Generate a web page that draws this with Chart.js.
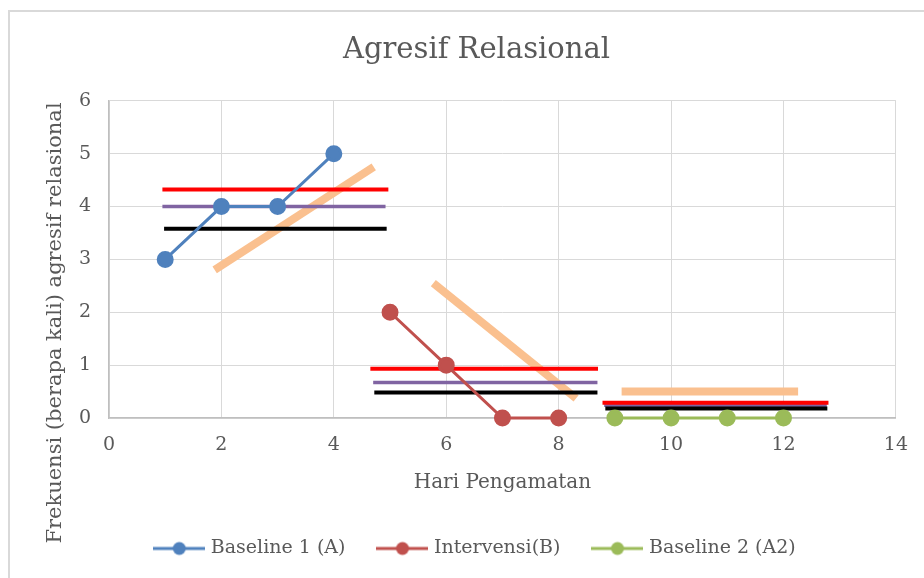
<!DOCTYPE html>
<html>
<head>
<meta charset="utf-8">
<script src="https://cdn.jsdelivr.net/npm/chart.js@4.4.1/dist/chart.umd.min.js"></script>
<style>
  html, body { margin: 0; padding: 0; background: #fff; }
  #wrap { width: 924px; height: 578px; }
</style>
</head>
<body>
<div id="wrap"><canvas id="chart" width="924" height="578"></canvas></div>
<script>
// observation days and counts per phase
const baselineADays = [1, 2, 3, 4];
const baselineACounts = [3, 4, 4, 5];
const interventionDays = [5, 6, 7, 8];
const interventionCounts = [2, 1, 0, 0];
const baselineA2Days = [9, 10, 11, 12];
const baselineA2Counts = [0, 0, 0, 0];

const seriesNames = ['Baseline 1 (A)', 'Intervensi(B)', 'Baseline 2 (A2)'];

// helper lines per phase: [xStart, xEnd, yStart, yEnd]
const upperLines = [[0.95, 4.97, 4.32, 4.32], [4.65, 8.7, 0.93, 0.93], [8.78, 12.8, 0.29, 0.29]];
const meanLines = [[0.95, 4.92, 4.0, 4.0], [4.7, 8.69, 0.67, 0.67], [8.81, 12.77, 0.24, 0.24]];
const lowerLines = [[0.98, 4.94, 3.58, 3.58], [4.72, 8.69, 0.48, 0.48], [8.83, 12.78, 0.18, 0.18]];
const trendLines = [[1.88, 4.71, 2.8, 4.75], [5.77, 8.31, 2.55, 0.37], [9.12, 12.26, 0.5, 0.5]];

// axis ranges: [min, max, step]
const xRange = [0, 14, 2];
const yRange = [0, 6, 1];

const titleText = 'Agresif Relasional';
const xTitle = 'Hari Pengamatan';
const yTitle = 'Frekuensi (berapa kali) agresif relasional';

const textGray = '#595959';
const fontFamily = "'DejaVu Serif', serif";
const seriesColors = ['#4F81BD', '#C0504D', '#9BBB59'];

function points(xs, ys) {
    return xs.map((x, i) => ({ x: x, y: ys[i] }));
}

function segmentSets(list, color, width, order) {
    return list.map(s => ({
        data: [{ x: s[0], y: s[2] }, { x: s[1], y: s[3] }],
        borderColor: color,
        backgroundColor: color,
        borderWidth: width,
        borderCapStyle: 'butt',
        pointRadius: 0,
        pointHoverRadius: 0,
        showLine: true,
        order: order
    }));
}

// little line+marker picture for the legend
function legendIcon(color) {
    const c = document.createElement('canvas');
    c.width = 52;
    c.height = 16;
    const g = c.getContext('2d');
    g.strokeStyle = color;
    g.lineWidth = 3;
    g.beginPath();
    g.moveTo(0, 8);
    g.lineTo(52, 8);
    g.stroke();
    g.fillStyle = color;
    g.beginPath();
    g.arc(26, 8, 6.5, 0, Math.PI * 2);
    g.fill();
    return c;
}
const icons = seriesColors.map(legendIcon);

const seriesData = [
    points(baselineADays, baselineACounts),
    points(interventionDays, interventionCounts),
    points(baselineA2Days, baselineA2Counts)
];

const datasets = seriesData.map((d, i) => ({
    label: seriesNames[i],
    data: d,
    borderColor: seriesColors[i],
    backgroundColor: seriesColors[i],
    borderWidth: 3,
    pointRadius: 7,
    pointHoverRadius: 7,
    showLine: true,
    clip: 10,
    order: 0
})).concat(
    segmentSets(upperLines, '#FF0000', 4, 2),
    segmentSets(meanLines, '#8064A2', 3.5, 3),
    segmentSets(lowerLines, '#000000', 4, 1),
    segmentSets(trendLines, '#FAC08F', 8, 10)
);

const framePlugin = {
    id: 'frame',
    beforeDraw(chart) {
        const ctx = chart.ctx;
        ctx.save();
        ctx.fillStyle = '#ffffff';
        ctx.fillRect(0, 0, chart.width, chart.height);
        ctx.strokeStyle = '#D9D9D9';
        ctx.lineWidth = 2;
        ctx.strokeRect(9, 11, chart.width + 20, chart.height + 20);
        ctx.restore();
    }
};

// y axis title sits lower than the plot centre, as in the original
const yTitlePlugin = {
    id: 'yTitle',
    afterDraw(chart) {
        const ctx = chart.ctx;
        ctx.save();
        ctx.translate(56, 323);
        ctx.rotate(-Math.PI / 2);
        ctx.font = "21px " + fontFamily;
        ctx.fillStyle = textGray;
        ctx.textAlign = 'center';
        ctx.textBaseline = 'middle';
        ctx.fillText(yTitle, 0, 0);
        ctx.restore();
    }
};

Chart.defaults.font.family = fontFamily;
Chart.defaults.color = textGray;

new Chart(document.getElementById('chart'), {
    type: 'scatter',
    data: { datasets: datasets },
    plugins: [framePlugin, yTitlePlugin],
    options: {
        responsive: false,
        animation: false,
        layout: { padding: { left: 56, right: 27, top: 0, bottom: 10 } },
        scales: {
            x: {
                type: 'linear',
                min: xRange[0],
                max: xRange[1],
                ticks: { stepSize: xRange[2], padding: 16, font: { size: 19 }, color: textGray },
                grid: { color: '#D9D9D9', lineWidth: 1, drawTicks: false },
                border: { color: '#BFBFBF', width: 1.5 },
                title: { display: true, text: xTitle, font: { size: 20 }, color: textGray, padding: { top: 0, bottom: 9 } },
                afterFit: function(scale) { scale.height = 86; }
            },
            y: {
                type: 'linear',
                min: yRange[0],
                max: yRange[1],
                ticks: { stepSize: yRange[2], padding: 18, font: { size: 19 }, color: textGray },
                grid: { color: '#D9D9D9', lineWidth: 1, drawTicks: false },
                border: { color: '#BFBFBF', width: 1.5 },
                afterFit: function(scale) { scale.width = 53; }
            }
        },
        plugins: {
            title: {
                display: true,
                text: titleText,
                font: { size: 29, weight: 'normal' },
                color: textGray,
                padding: { top: 33, bottom: 33 }
            },
            legend: {
                position: 'bottom',
                labels: {
                    usePointStyle: true,
                    pointStyleWidth: 44,
                    padding: 35,
                    font: { size: 19 },
                    color: textGray,
                    generateLabels: function() {
                        return seriesNames.map((name, i) => ({
                            text: name,
                            pointStyle: icons[i],
                            fillStyle: seriesColors[i],
                            strokeStyle: seriesColors[i],
                            lineWidth: 0,
                            fontColor: textGray,
                            datasetIndex: i,
                            hidden: false
                        }));
                    }
                },
                onClick: null
            },
            tooltip: { enabled: false }
        }
    }
});
</script>
</body>
</html>
